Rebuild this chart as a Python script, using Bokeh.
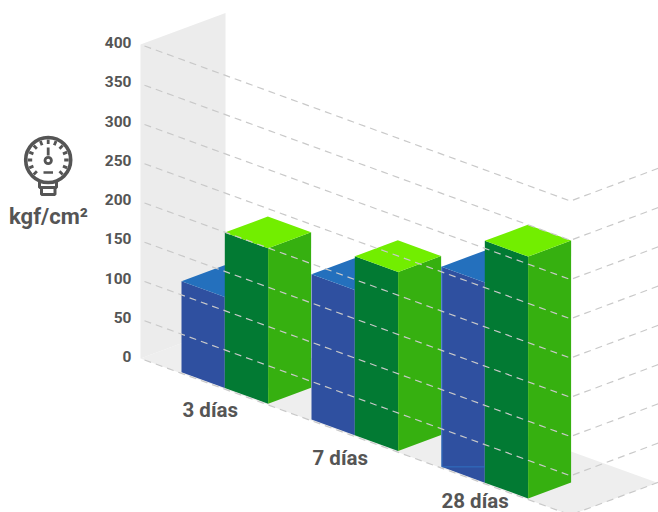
import numpy as np
from bokeh.plotting import figure
from bokeh.models import Range1d
from bokeh.core.properties import value
from bokeh.embed import file_html
from bokeh.resources import INLINE

categories = ["3 días", "7 días", "28 días"]
blue_values = [116, 185, 255]
green_values = [198, 228, 308]
tick_values = [0, 50, 100, 150, 200, 250, 300, 350, 400]
unit_label = "kgf/cm²"

X0, Y0, KV = 140.0, 358.0, 0.785
SU, SD = 0.364, 0.372
FRONT, DEPTH, WALL_DEPTH = 430.0, 87.0, 85.0
GROUP_U = [41.0, 171.0, 301.0]
BW = 43.3
BD = 43.0
BAR_DY = -1.2
FONT = "Roboto"
TXT = "#555555"


def P(u, d, v, dy=0.0):
    return (X0 + u + d, Y0 + SU * u - SD * d - KV * v + dy)


def poly(pts, dy=0.0):
    xy = [P(*q, dy) for q in pts]
    return [a for a, _ in xy], [b for _, b in xy]


p = figure(width=658, height=512, output_backend="svg", toolbar_location=None,
           x_range=Range1d(0, 658), y_range=Range1d(512, 0), min_border=0)
p.axis.visible = False
p.grid.visible = False
p.outline_line_color = None
p.background_fill_color = "white"
p.border_fill_color = "white"

# wall and floor
x, y = poly([(0, 0, 0), (0, WALL_DEPTH, 0), (FRONT, DEPTH, 0), (FRONT, 0, 0)])
p.patch(x, y, fill_color="#eeeeee", line_color=None)
x, y = poly([(0, 0, 0), (0, 0, 400), (0, WALL_DEPTH, 400), (0, WALL_DEPTH, 0)])
p.patch(x, y, fill_color="#ececec", line_color=None)


def box(u0, val, c_front, c_top, c_side=None):
    u1 = u0 + BW
    x, y = poly([(u0, 0, 0), (u0, 0, val), (u1, 0, val), (u1, 0, 0)], BAR_DY)
    p.patch(x, y, fill_color=c_front, line_color=None)
    if c_side:
        x, y = poly([(u1, 0, 0), (u1, 0, val), (u1, BD, val), (u1, BD, 0)], BAR_DY)
        p.patch(x, y, fill_color=c_side, line_color=None)
    x, y = poly([(u0, 0, val), (u0, BD, val), (u1, BD, val), (u1, 0, val)], BAR_DY)
    p.patch(x, y, fill_color=c_top, line_color=None)


for gu, b, g in zip(GROUP_U, blue_values, green_values):
    box(gu, b, "#2f50a0", "#2470bd")
    box(gu + BW, g, "#027a33", "#72ee00", "#36b010")

# light edge of the last blue bar
lx, ly = P(GROUP_U[2], 0, 0, BAR_DY)
tx, ty = P(GROUP_U[2], 0, blue_values[2], BAR_DY)
p.line([tx + 0.5, lx + 0.5, lx + BW], [ty, ly, ly], line_color="#2f6fc0", line_width=1)

# grid lines drawn over the bars
for t in tick_values:
    x, y = poly([(4, 0, t), (FRONT, 0, t), (FRONT, DEPTH + 3, t)])
    p.line(x, y, line_color="#c9c9c9", line_width=1.2, line_dash="7 5")

# tick labels
p.text([131] * len(tick_values), [P(0, 0, t)[1] - 2 for t in tick_values],
       text=[str(t) for t in tick_values], text_align="right", text_baseline="middle",
       text_font=value(FONT), text_font_size="15.5px", text_font_style="bold", text_color=TXT)

# category labels
for cat, tx, ty in zip(categories, [182, 312, 441], [409, 457, 500]):
    p.text([tx], [ty], text=[cat], text_align="left", text_baseline="middle",
           text_font=value(FONT), text_font_size="20.5px", text_font_style="bold", text_color=TXT)

# gauge icon
cx, cy = 47.7, 159.5
p.circle([cx], [cy], radius=22.5, fill_color=None, line_color=TXT, line_width=3.6)
ang = np.radians(np.arange(-135, 136, 22.5))
p.multi_line([[cx + 16 * np.sin(a), cx + 20.5 * np.sin(a)] for a in ang],
             [[cy - 16 * np.cos(a), cy - 20.5 * np.cos(a)] for a in ang],
             line_color=TXT, line_width=2.8)
p.line([cx, cx], [147, 155], line_color=TXT, line_width=2.8)
p.circle([cx], [160], radius=3.2, fill_color="white", line_color=TXT, line_width=2.8)
p.line([43, 52.5], [172, 172], line_color=TXT, line_width=2.6)
p.line([39, 39, 56, 56], [180, 187, 187, 180], line_color=TXT, line_width=3)
p.line([41, 41, 54.5, 54.5, 41], [187, 194, 194, 187, 187], line_color=TXT, line_width=3)

p.text([48], [216], text=[unit_label], text_align="center", text_baseline="middle",
       text_font=value(FONT), text_font_size="22px", text_font_style="bold", text_color=TXT)

open("out.html", "w").write(file_html(p, INLINE))
